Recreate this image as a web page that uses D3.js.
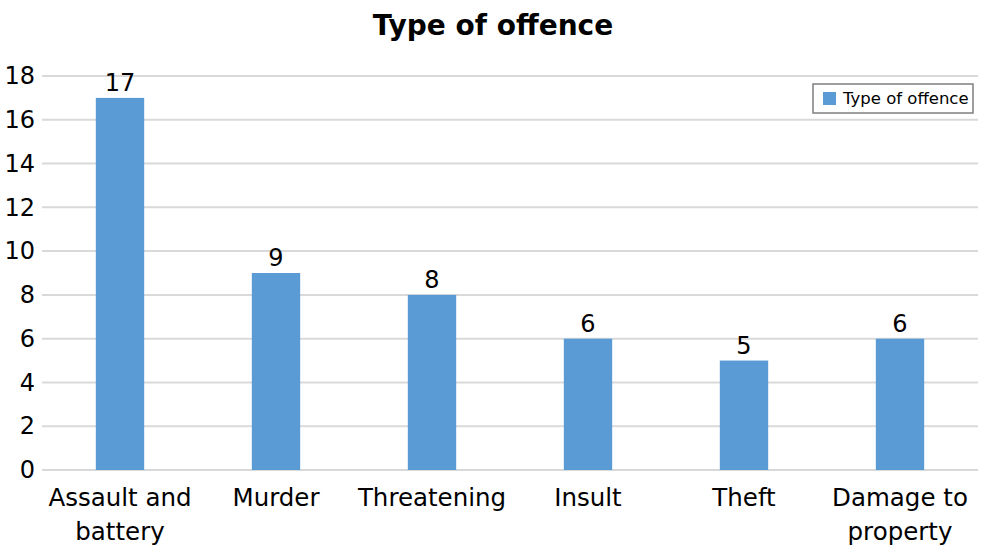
<!DOCTYPE html>
<html>
<head>
<meta charset="utf-8">
<script src="https://cdn.jsdelivr.net/npm/d3@7"></script>
<style>
  body { margin: 0; background: #fff; }
  text { font-family: "DejaVu Sans", "Noto Sans", sans-serif; fill: #000; }
</style>
</head>
<body>
<div id="chart"></div>
<script>
'use strict';

var categories = ['Assault and battery', 'Murder', 'Threatening', 'Insult', 'Theft', 'Damage to property'];
var categoryLines = [['Assault and', 'battery'], ['Murder'], ['Threatening'], ['Insult'], ['Theft'], ['Damage to', 'property']];
var values = [17, 9, 8, 6, 5, 6];
var yTicks = [0, 2, 4, 6, 8, 10, 12, 14, 16, 18];
var seriesName = 'Type of offence';

var width = 984, height = 556;
var margin = { top: 76, right: 6, bottom: 86, left: 42 };

var svg = d3.select('#chart')
    .append('svg')
    .attr('width', width)
    .attr('height', height);

var xScale = d3.scaleBand()
    .domain(categories)
    .range([margin.left, width - margin.right])
    .paddingInner(0.69)
    .paddingOuter(0.345);

var yScale = d3.scaleLinear()
    .domain([0, 18])
    .range([height - margin.bottom, margin.top]);

// gridlines
svg.append('g')
    .selectAll('line')
    .data(yTicks)
    .enter()
    .append('line')
    .attr('x1', margin.left)
    .attr('x2', width - margin.right)
    .attr('y1', d => yScale(d))
    .attr('y2', d => yScale(d))
    .attr('stroke', '#d9d9d9')
    .attr('stroke-width', 2);

// y axis labels
let yAxis = d3.axisLeft(yScale).tickValues(yTicks).tickSize(0).tickPadding(6);
svg.append('g')
    .attr('transform', 'translate(' + (margin.left - 1) + ',0)')
    .call(yAxis)
    .call(g => g.select('.domain').remove())
    .selectAll('text')
    .attr('font-size', 24)
    .attr('font-family', '"DejaVu Sans", sans-serif')
    .attr('fill', '#000');

// bars
svg.append('g')
    .selectAll('rect')
    .data(values)
    .enter()
    .append('rect')
    .attr('x', (d, i) => xScale(categories[i]))
    .attr('y', d => yScale(d))
    .attr('width', xScale.bandwidth())
    .attr('height', d => yScale(0) - yScale(d))
    .attr('fill', '#5b9bd5');

// value labels
svg.append('g')
    .selectAll('text')
    .data(values)
    .enter()
    .append('text')
    .attr('x', (d, i) => xScale(categories[i]) + xScale.bandwidth() / 2)
    .attr('y', d => yScale(d) - 7)
    .attr('text-anchor', 'middle')
    .attr('font-size', 24)
    .text(d => d);

// category labels
let catG = svg.append('g')
    .selectAll('text')
    .data(categoryLines)
    .enter()
    .append('text')
    .attr('text-anchor', 'middle')
    .attr('font-size', 24.5)
    .attr('transform', (d, i) => 'translate(' + (xScale(categories[i]) + xScale.bandwidth() / 2) + ',' + (yScale(0) + 36) + ')');

catG.selectAll('tspan')
    .data(d => d)
    .enter()
    .append('tspan')
    .attr('x', 0)
    .attr('y', (d, i) => i * 34)
    .text(d => d);

// title
svg.append('text')
    .attr('x', 493)
    .attr('y', 35)
    .attr('text-anchor', 'middle')
    .attr('font-size', 28)
    .attr('font-weight', 'bold')
    .text('Type of offence');

// legend
let legend = svg.append('g').attr('transform', 'translate(813,84)');
legend.append('rect')
    .attr('width', 160)
    .attr('height', 29)
    .attr('fill', '#fff')
    .attr('stroke', '#7f7f7f')
    .attr('stroke-width', 1.5);
legend.append('rect')
    .attr('x', 10)
    .attr('y', 8)
    .attr('width', 13)
    .attr('height', 13)
    .attr('fill', '#5b9bd5');
legend.append('text')
    .attr('x', 30)
    .attr('y', 20)
    .attr('font-size', 16.5)
    .text(seriesName);
</script>
</body>
</html>
